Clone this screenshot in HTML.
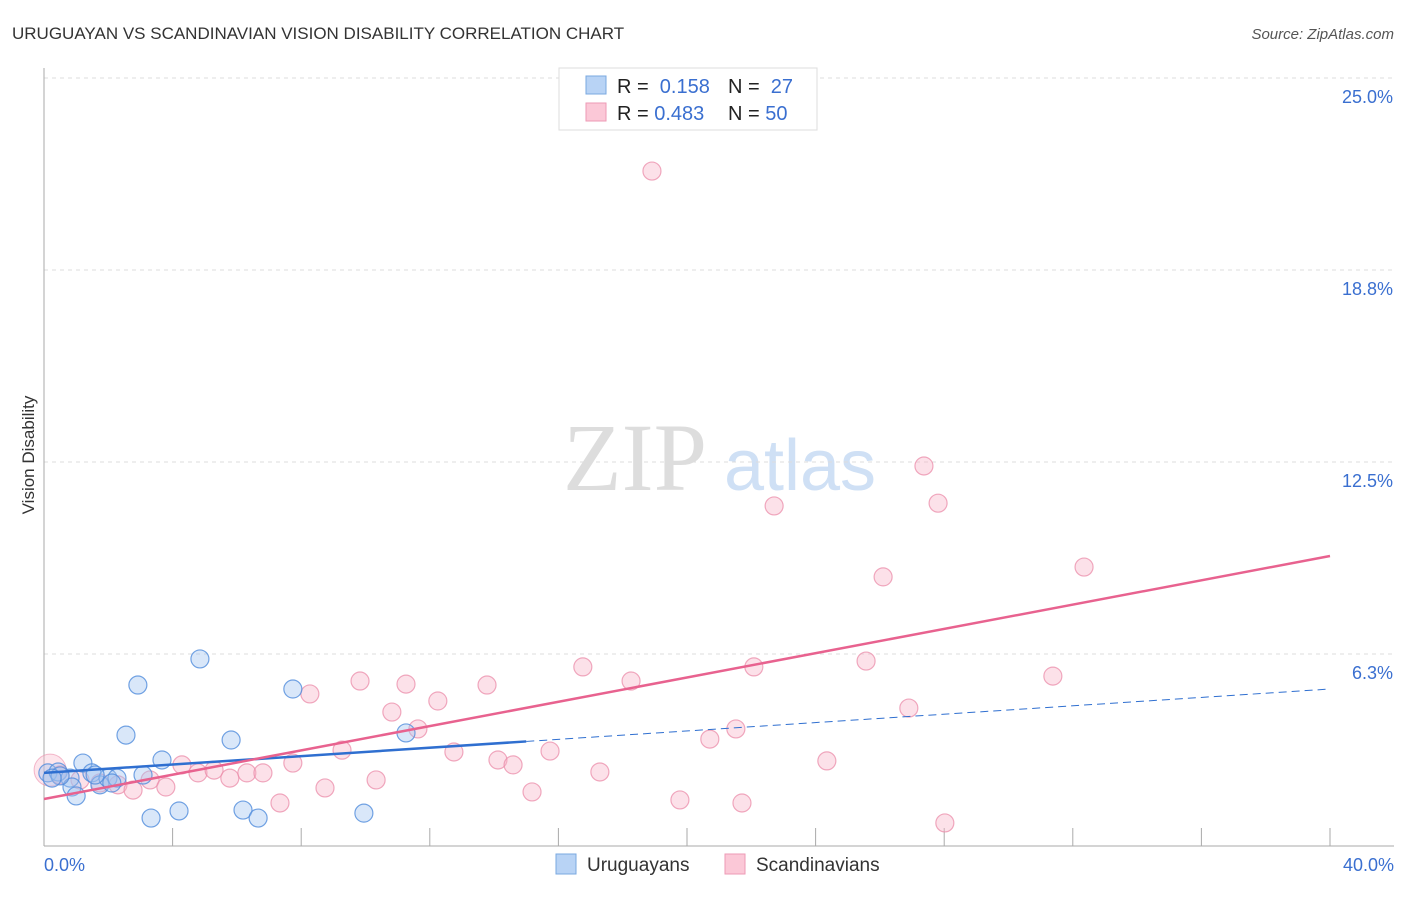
<!DOCTYPE html>
<html><head><meta charset="utf-8"><style>
body{margin:0;background:#fff;font-family:"Liberation Sans",sans-serif}
svg text{font-family:"Liberation Sans",sans-serif}
</style></head><body>
<svg width="1406" height="892" viewBox="0 0 1406 892">
<text x="12" y="39" font-size="17" fill="#333">URUGUAYAN VS SCANDINAVIAN VISION DISABILITY CORRELATION CHART</text>
<text x="1394" y="39" font-size="15" fill="#555" text-anchor="end" font-style="italic">Source: ZipAtlas.com</text>
<g>
<text x="635" y="490" font-size="96" fill="#ddd" text-anchor="middle" font-family="Liberation Serif" style="font-family:'Liberation Serif',serif">ZIP</text>
<text x="800" y="490" font-size="72" fill="#cfe0f5" text-anchor="middle">atlas</text>
</g>
<g id="grid"></g><g id="axes"></g><g id="marks"></g>
<text x="34" y="455" font-size="17" fill="#333" text-anchor="middle" transform="rotate(-90 34 455)">Vision Disability</text>
<g>
<rect x="559" y="68" width="258" height="62" fill="#fff" stroke="#ddd"/>
<rect x="586" y="76" width="20" height="18" fill="#b8d3f5" stroke="#7aa8e0"/>
<rect x="586" y="103" width="20" height="18" fill="#fbc8d7" stroke="#ee9ab5"/>
<text x="617" y="93" font-size="20" fill="#222">R = <tspan fill="#3a6fd0">&#160;0.158</tspan></text>
<text x="728" y="93" font-size="20" fill="#222">N = <tspan fill="#3a6fd0">&#160;27</tspan></text>
<text x="617" y="120" font-size="20" fill="#222">R = <tspan fill="#3a6fd0">0.483</tspan></text>
<text x="728" y="120" font-size="20" fill="#222">N = <tspan fill="#3a6fd0">50</tspan></text>
</g>
<g>
<rect x="556" y="854" width="20" height="20" fill="#b8d3f5" stroke="#7aa8e0"/>
<text x="587" y="871" font-size="19" fill="#333">Uruguayans</text>
<rect x="725" y="854" width="20" height="20" fill="#fbc8d7" stroke="#ee9ab5"/>
<text x="756" y="871" font-size="19" fill="#333">Scandinavians</text>
</g>
</svg>
<script>
const yTicks=[6.25,12.5,18.75,25];
const yTickLabels=["6.3%","12.5%","18.8%","25.0%"];
const xTickLabels=["0.0%","40.0%"];
const blueX=[0.12,0.44,0.81,0.87,1.00,1.21,1.49,1.74,1.99,2.27,2.55,2.92,3.08,3.33,3.67,4.20,4.85,5.82,6.19,6.66,7.74,9.95,11.26,2.11,0.50,0.25,1.59];
const blueY=[2.38,2.41,2.21,1.92,1.63,2.70,2.38,1.99,2.21,2.21,3.61,5.24,2.31,0.91,2.80,1.14,6.09,3.45,1.17,0.91,5.11,1.07,3.68,2.05,2.28,2.21,2.31];
const pinkX=[0.19,0.50,1.12,1.74,2.30,2.77,3.30,3.79,4.29,4.79,5.29,5.78,6.31,6.81,7.34,7.74,8.27,8.74,9.27,9.83,10.33,10.82,11.26,11.63,12.25,12.75,13.78,14.12,14.59,15.18,15.74,16.76,17.29,18.26,18.91,19.78,20.71,21.52,21.71,22.08,22.71,24.35,25.57,26.10,26.90,27.37,27.81,28.02,31.38,32.35];
const pinkY=[2.47,2.31,2.15,2.05,1.99,1.82,2.15,1.92,2.64,2.38,2.47,2.21,2.38,2.38,1.40,2.70,4.95,1.89,3.12,5.37,2.15,4.36,5.27,3.81,4.72,3.06,5.24,2.80,2.64,1.76,3.09,5.83,2.41,5.37,21.97,1.50,3.48,3.81,1.40,5.83,11.07,2.77,6.02,8.76,4.49,12.37,11.16,0.75,5.53,9.08];
const blueTrend=[2.38,5.11]; // y at x=0 and x=40
const blueSolidEnd=15.0;
const pinkTrend=[1.53,9.44];
const NS="http://www.w3.org/2000/svg";
const X=v=>44+v/40*1286, Y=v=>846-v/6.25*192;
function mk(t,a,p){const e=document.createElementNS(NS,t);for(const k in a)e.setAttribute(k,a[k]);p.appendChild(e);return e;}
const grid=document.getElementById('grid'),axes=document.getElementById('axes'),marks=document.getElementById('marks');
yTicks.forEach((t,i)=>{
 const l=mk('line',{x1:44,x2:1394,y1:Y(t),y2:Y(t),stroke:'#ddd','stroke-dasharray':'4,4'},grid);
 
 
 const tx=mk('text',{x:1393,y:Y(t)+25,'font-size':18,fill:'#3a6fd0','text-anchor':'end'},axes);
 tx.textContent=yTickLabels[i];
 
 
});
const xa=mk('line',{x1:44,x2:1394,y1:846,y2:846,stroke:'#aaa'},axes);


const ya=mk('line',{x1:44,x2:44,y1:68,y2:846,stroke:'#aaa'},axes);


for(let v=4;v<=40;v+=4){const t=mk('line',{x1:X(v),x2:X(v),y1:828,y2:846,stroke:'#aaa'},axes);
 
 }
const xl0=mk('text',{x:44,y:871,'font-size':18,fill:'#3a6fd0'},axes);xl0.textContent=xTickLabels[0];


const xl1=mk('text',{x:1394,y:871,'font-size':18,fill:'#3a6fd0','text-anchor':'end'},axes);xl1.textContent=xTickLabels[1];


// big pink point at origin
const big=mk('circle',{cx:X(pinkX[0]),cy:Y(pinkY[0]),r:16,fill:'rgba(248,180,200,0.35)',stroke:'rgba(235,140,170,0.6)'},marks);


pinkX.forEach((x,i)=>{if(i==0)return;const c=mk('circle',{cx:X(x),cy:Y(pinkY[i]),r:9,fill:'rgba(248,180,200,0.4)',stroke:'rgba(235,140,170,0.75)','stroke-width':1.2},marks);
 
 });
blueX.forEach((x,i)=>{const c=mk('circle',{cx:X(x),cy:Y(blueY[i]),r:9,fill:'rgba(160,195,240,0.4)',stroke:'rgba(80,140,220,0.8)','stroke-width':1.2},marks);
 
 });
const by=v=>blueTrend[0]+(blueTrend[1]-blueTrend[0])*v/40;
const bs=mk('line',{x1:X(0),y1:Y(by(0)),x2:X(blueSolidEnd),y2:Y(by(blueSolidEnd)),stroke:'#2f6fd0','stroke-width':2.5},marks);


const bd=mk('line',{x1:X(blueSolidEnd),y1:Y(by(blueSolidEnd)),x2:X(40),y2:Y(by(40)),stroke:'#2f6fd0','stroke-width':1,'stroke-dasharray':'8,5'},marks);


const pl=mk('line',{x1:X(0),y1:Y(pinkTrend[0]),x2:X(40),y2:Y(pinkTrend[1]),stroke:'#e8628f','stroke-width':2.5},marks);


</script>
</body></html>
